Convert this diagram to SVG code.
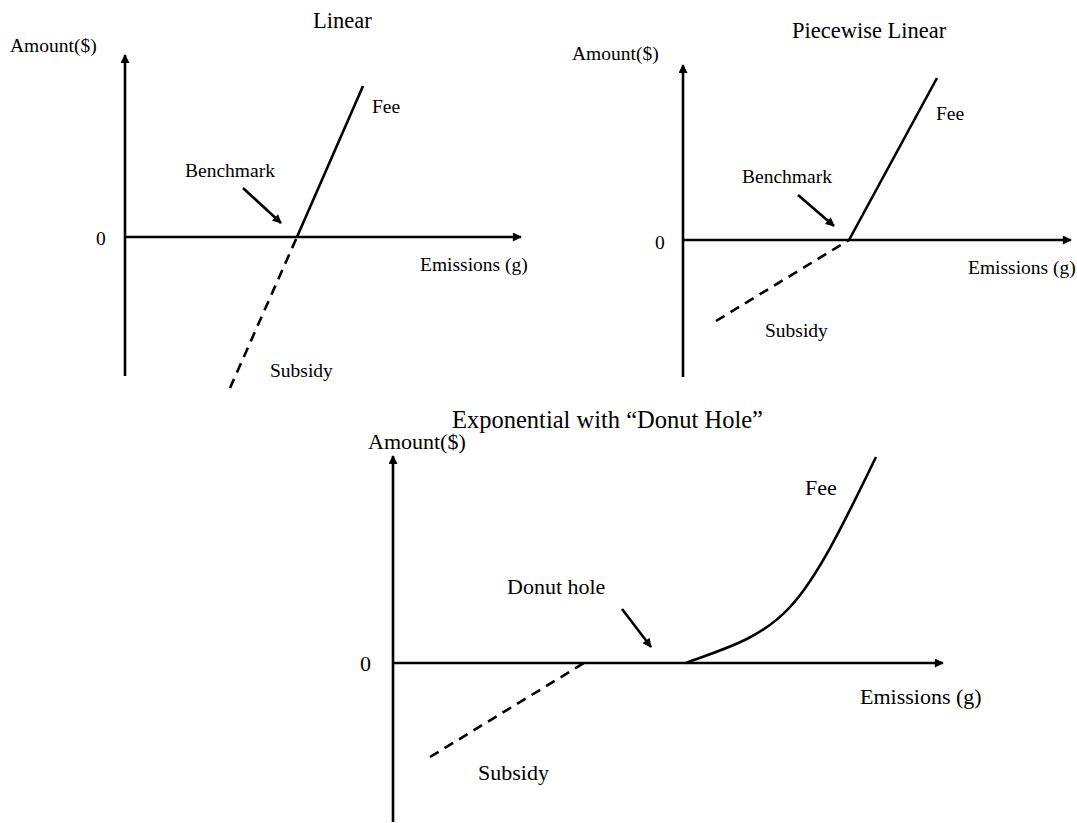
<svg xmlns="http://www.w3.org/2000/svg" width="1077" height="823" viewBox="0 0 1077 823">
<style>
text{font-family:"Liberation Serif","Times New Roman",serif;fill:#000}
.t1{font-size:19.5px}
.t3{font-size:22px}
.ttl{font-size:22.5px}
.ttl3{font-size:24.5px}
.ax{stroke:#000;stroke-width:2.6;fill:none;marker-end:url(#ah)}
.ln{stroke:#000;stroke-width:2.6;fill:none}
.ds{stroke:#000;stroke-width:2.6;fill:none;stroke-dasharray:10 7}
.pt{stroke:#000;stroke-width:2.6;fill:none;marker-end:url(#ah)}
</style>
<defs>
<marker id="ah" viewBox="0 0 10 10" refX="9" refY="5" markerWidth="11" markerHeight="9" markerUnits="userSpaceOnUse" orient="auto"><path d="M0,0 L10,5 L0,10 z" fill="#000"/></marker>
</defs>
<rect width="1077" height="823" fill="#fff"/>
<g id="panel-linear">
<text class="ttl" x="313" y="28">Linear</text>
<text class="t1" x="10" y="52">Amount($)</text>
<text class="t1" x="96" y="245">0</text>
<text class="t1" x="420" y="271">Emissions (g)</text>
<text class="t1" x="372" y="113">Fee</text>
<text class="t1" x="185" y="177">Benchmark</text>
<text class="t1" x="270" y="377">Subsidy</text>
<line class="ax" x1="125" y1="376" x2="125" y2="55"/>
<line class="ax" x1="125" y1="237" x2="521" y2="237"/>
<line class="ln" x1="297" y1="237" x2="363" y2="86"/>
<line class="ds" x1="230" y1="388" x2="297" y2="237"/>
</g>
<g id="panel-piecewise">
<text class="ttl" x="792" y="38">Piecewise Linear</text>
<text class="t1" x="572" y="60">Amount($)</text>
<text class="t1" x="655" y="249">0</text>
<text class="t1" x="968" y="274">Emissions (g)</text>
<text class="t1" x="936" y="120">Fee</text>
<text class="t1" x="742" y="183">Benchmark</text>
<text class="t1" x="765" y="337">Subsidy</text>
<line class="ax" x1="683" y1="377" x2="683" y2="65"/>
<line class="ax" x1="683" y1="240" x2="1071" y2="240"/>
<line class="ln" x1="849" y1="240" x2="937" y2="78"/>
<line class="ds" x1="716" y1="321" x2="849" y2="240"/>
</g>
<g id="panel-exponential">
<text class="ttl3" x="452" y="428">Exponential with “Donut Hole”</text>
<text class="t3" x="368" y="449">Amount($)</text>
<text class="t3" x="360" y="671">0</text>
<text class="t3" x="860" y="704">Emissions (g)</text>
<text class="t3" x="805" y="495">Fee</text>
<text class="t3" x="507" y="594">Donut hole</text>
<text class="t3" x="478" y="780">Subsidy</text>
<line class="ax" x1="393" y1="822" x2="393" y2="456"/>
<line class="ax" x1="393" y1="663" x2="943" y2="663"/>
<path class="ln" d="M686,663 C720,650 760,640 790,607 C820,575 850,510 876,457"/>
<line class="ds" x1="430" y1="757" x2="584" y2="663"/>
</g>
<g id="connectors">
<line class="pt" x1="243" y1="188" x2="281" y2="223"/>
<line class="pt" x1="798" y1="195" x2="834" y2="226"/>
<line class="pt" x1="622" y1="609" x2="651" y2="647"/>
</g>
</svg>
